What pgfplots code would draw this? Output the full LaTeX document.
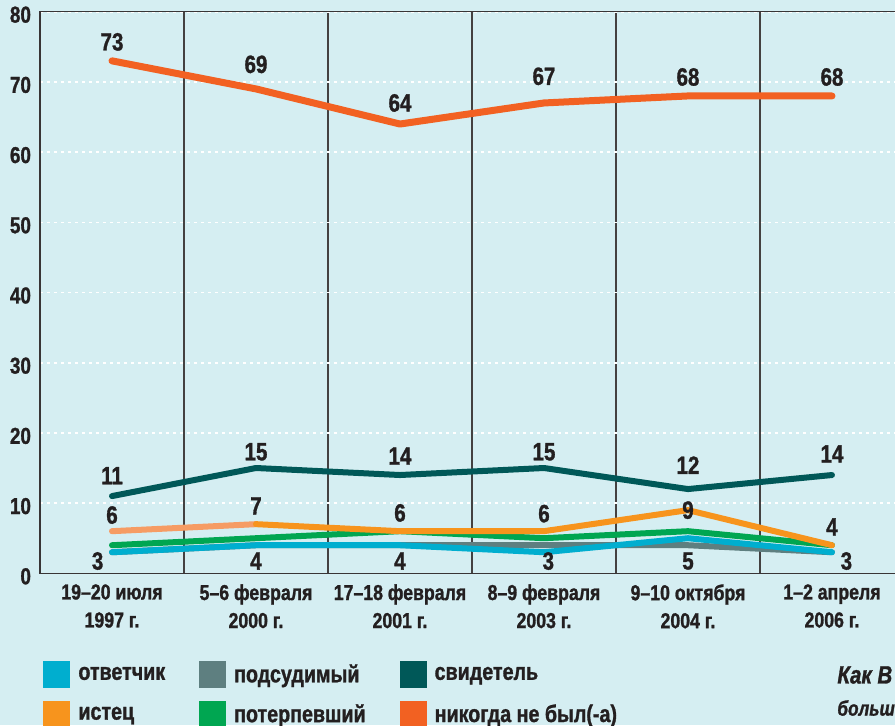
\documentclass[border=0pt]{standalone}
\usepackage{fontspec}
\setmainfont{Liberation Sans}[FakeStretch=0.82, BoldFeatures={FakeBold=1.2}, BoldItalicFeatures={FakeBold=1.2}]
\usepackage{pgfplots}
\pgfplotsset{compat=1.18}
\definecolor{bg}{RGB}{213,238,242}
\definecolor{cotv}{RGB}{0,174,207}
\definecolor{cpod}{RGB}{94,127,128}
\definecolor{csvid}{RGB}{0,88,88}
\definecolor{cist}{RGB}{247,148,29}
\definecolor{cistl}{RGB}{246,156,100}
\definecolor{cpot}{RGB}{0,166,81}
\definecolor{cnik}{RGB}{242,97,34}
\definecolor{txt}{RGB}{35,31,32}
\pgfplotsset{sqleg/.style={legend image code/.code={\fill[##1, draw=none] (0pt,-6.75pt) rectangle (13.5pt,6.75pt);}}}
\begin{document}
\begin{tikzpicture}
\useasboundingbox (0,0) rectangle (447.5pt,362.5pt);
\clip (0,0) rectangle (447.5pt,362.5pt);
\fill[bg] (0,0) rectangle (447.5pt,362.5pt);
\begin{axis}[
  at={(20pt,75.85pt)}, anchor=south west,
  width=432pt, height=280.8pt, scale only axis,
  xmin=-0.5, xmax=5.5, ymin=0, ymax=80,
  xtick={0,1,2,3,4,5},
  xticklabels={{19–20 июля\\1997 г.},{5–6 февраля\\2000 г.},{17–18 февраля\\2001 г.},{8–9 февраля\\2003 г.},{9–10 октября\\2004 г.},{1–2 апреля\\2006 г.}},
  minor xtick={-0.5,0.5,1.5,2.5,3.5,4.5,5.5},
  xminorgrids,
  minor grid style={solid, draw=txt!85, line width=0.55pt},
  ytick={0,10,...,80},
  ymajorgrids,
  major grid style={draw=white, line width=0.8pt, dash pattern=on 1.4pt off 2.1pt},
  major tick length=0pt, minor tick length=0pt,
  /pgf/number format/assume math mode=true,
  yticklabel style={font=\bfseries\fontsize{11.5}{12}\selectfont, text=txt, xshift=-1pt, yshift=-1.5pt},
  xticklabel style={font=\bfseries\fontsize{10.8}{14}\selectfont, text=txt, align=center, yshift=-2pt},
  axis line style={draw=txt!90, line width=0.75pt},
  clip=false,
  legend columns=3,
  legend cell align=left,
  legend style={at={(0.0035,-0.1544)}, anchor=north west, draw=none, fill=none, inner sep=0pt,
    font=\bfseries\fontsize{12}{12}\selectfont, text=txt, row sep=5.5pt,
    /tikz/every odd column/.append style={column sep=2pt},
    /tikz/every even column/.append style={column sep=15pt}},
]
\addlegendimage{sqleg, fill=cotv}\addlegendentry{ответчик}
\addlegendimage{sqleg, fill=cpod}\addlegendentry{подсудимый}
\addlegendimage{sqleg, fill=csvid}\addlegendentry{свидетель}
\addlegendimage{sqleg, fill=cist}\addlegendentry{истец}
\addlegendimage{sqleg, fill=cpot}\addlegendentry{потерпевший}
\addlegendimage{sqleg, fill=cnik}\addlegendentry{никогда не был(-а)}
% подсудимый
\addplot[forget plot, draw=cpod, line width=3pt, line cap=round, line join=round] coordinates {(0,3) (1,4) (2,4) (3,4) (4,4) (5,3)};
% потерпевший
\addplot[forget plot, draw=cpot, line width=3pt, line cap=round, line join=round] coordinates {(0,4) (1,5) (2,6) (3,5) (4,6) (5,4)};
% ответчик
\addplot[forget plot, draw=cotv, line width=3pt, line cap=round, line join=round] coordinates {(0,3) (1,4) (2,4) (3,3) (4,5) (5,3)};
% истец (first segment lighter, as in the original)
\addplot[forget plot, draw=cistl, line width=3pt, line cap=round, line join=round] coordinates {(0,6) (1,7)};
\addplot[forget plot, draw=cist, line width=3pt, line cap=round, line join=round] coordinates {(1,7) (2,6) (3,6) (4,9) (5,4)};
% свидетель
\addplot[forget plot, draw=csvid, line width=3pt, line cap=round, line join=round] coordinates {(0,11) (1,15) (2,14) (3,15) (4,12) (5,14)};
% никогда не был
\addplot[forget plot, draw=cnik, line width=3.5pt, line cap=round, line join=round] coordinates {(0,73) (1,69) (2,64) (3,67) (4,68) (5,68)};
% value labels
\addplot[forget plot, only marks, mark=none, point meta=explicit symbolic,
  nodes near coords, nodes near coords style={anchor=center, inner sep=0pt, text=txt, font=\bfseries\fontsize{12.5}{13}\selectfont}]
  table[meta=lab] {
x y lab
0 75.7 73
1 72.5 69
2 67.0 64
3 70.8 67
4 70.7 68
5 70.7 68
0 13.9 11
1 17.3 15
2 16.7 14
3 17.3 15
4 15.4 12
5 17.0 14
0 8.3 6
1 9.6 7
2 8.6 6
3 8.5 6
4 9.0 9
5 6.6 4
-0.1 1.75 3
1 1.75 4
2 1.75 4
3.03 1.75 3
4 1.75 5
5.1 1.75 3
};
\end{axis}
\node[anchor=west, inner sep=0pt, text=txt, font=\bfseries\itshape\fontsize{12.5}{12}\selectfont] at (418.5pt,25pt) {Как В};
\node[anchor=west, inner sep=0pt, text=txt, font=\bfseries\itshape\fontsize{10.5}{12}\selectfont] at (418.5pt,8.5pt) {больш};
\end{tikzpicture}
\end{document}
